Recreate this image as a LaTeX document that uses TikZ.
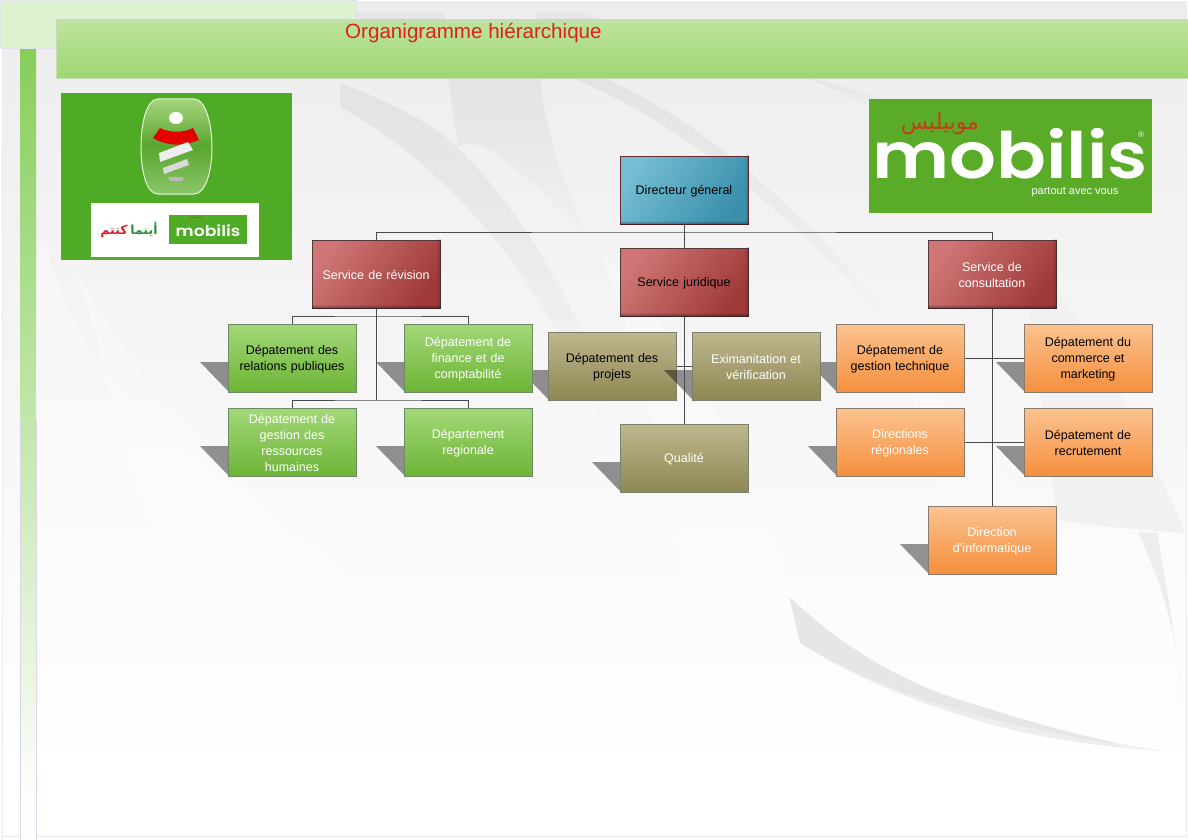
\documentclass[tikz,border=0pt]{standalone}
\usepackage{fontspec}
\setmainfont{Liberation Sans}
\newfontfamily\arabicfont[Script=Arabic]{DejaVu Sans}
\newfontfamily\logofont{Poppins SemiBold}
\TeXXeTstate=1
\usetikzlibrary{fadings}
\definecolor{linec}{HTML}{4A4A4A}
\definecolor{logogreen}{HTML}{4FAB26}
\definecolor{logogreenb}{HTML}{5AAB28}
\definecolor{titlered}{HTML}{E0201A}
\definecolor{swoosh}{HTML}{E6E6E6}
\definecolor{swooshfade}{HTML}{E4E4E4}
\definecolor{swooshpale}{HTML}{F1F1F1}
\definecolor{EDGEred}{HTML}{6E2A34}
\definecolor{EDGEdark}{HTML}{55393A}
\definecolor{EDGEgreen}{HTML}{6E8A62}
\definecolor{EDGEolive}{HTML}{7E7E6C}
\definecolor{EDGEorange}{HTML}{8A7A6A}
\definecolor{BlueA}{HTML}{74BDD3}
\definecolor{BlueB}{HTML}{3A8FAB}
\definecolor{RedA}{HTML}{CF7575}
\definecolor{RedB}{HTML}{A03A3A}
\definecolor{GreenA}{HTML}{A3D878}
\definecolor{GreenB}{HTML}{6CB436}
\definecolor{OliveA}{HTML}{BDB78F}
\definecolor{OliveB}{HTML}{8E8852}
\definecolor{OrangeA}{HTML}{FBC390}
\definecolor{OrangeB}{HTML}{F58F3E}
\definecolor{paleblock}{HTML}{DDF2CF}
\definecolor{paleedge}{HTML}{DFE4EA}
\definecolor{stripA}{HTML}{88CE5C}
\definecolor{stripedge}{HTML}{D8D8EA}
\definecolor{headA}{HTML}{BEE39E}
\definecolor{headB}{HTML}{9ED670}
\definecolor{headedge}{HTML}{C6DEB6}
\definecolor{emblemA}{HTML}{A6D47C}
\definecolor{emblemM}{HTML}{58A630}
\definecolor{emblemB}{HTML}{8CC66A}
\definecolor{emblemedge}{HTML}{E6F4DE}
\definecolor{logored}{HTML}{C93A1A}
\definecolor{slogangreen}{HTML}{2F8F3A}
\definecolor{sloganred}{HTML}{D8232A}
\tikzset{
  orgnode/.style={draw, line width=1pt, minimum width=128pt, minimum height=68pt, inner sep=0pt},
  orgtext/.style={inner sep=0pt, text width=122pt, align=center, font=\fontsize{12.5}{16}\selectfont},
  bluebox/.style={orgnode, draw=EDGEred, left color=BlueA, right color=BlueB, shading angle=55},
  redbox/.style={orgnode, draw=EDGEdark, left color=RedA, right color=RedB, shading angle=55},
  greenbox/.style={orgnode, draw=EDGEgreen, top color=GreenA, bottom color=GreenB},
  olivebox/.style={orgnode, draw=EDGEolive, top color=OliveA, bottom color=OliveB},
  orangebox/.style={orgnode, draw=EDGEorange, top color=OrangeA, bottom color=OrangeB},
  dropshadow/.style={fill=black, opacity=.42},
  wire/.style={draw=linec, line width=1pt},
  lightsweep/.style={fill=white, opacity=.3},
  darksweep/.style={fill=swooshfade, path fading=south},
}
% box without shadow: name, cx, cy, style, text colour, text
\newcommand\plainbox[6]{\node[#4] (#1) at (#2,#3) {};
  \node[orgtext, text=#5] (#1label) at (#2,#3+1) {#6};}
% box with the slanted drop shadow
\newcommand\castbox[6]{%
  \fill[dropshadow] (#2-92,#3+4) -- (#2-64,#3+4) -- (#2-64,#3+33) -- cycle;
  \node[#4] (#1) at (#2,#3) {};
  \node[orgtext, text=#5] (#1label) at (#2,#3+1) {#6};}
% dark bevel along bottom and right of a box
\newcommand\bevel[1]{%
  \fill[black, opacity=.4, path fading=north] (#1.south west) rectangle ([yshift=4pt]#1.south east);
  \fill[black, opacity=.2, path fading=west] ([xshift=-4pt]#1.south east) rectangle (#1.north east);}
\begin{document}
\begin{tikzpicture}[x=1pt,y=-1pt]
\useasboundingbox (0,0) rectangle (1188,840);
% background
\fill[white] (0,0) rectangle (1188,840);
\shade[top color=white!93!black, bottom color=white] (2,2) rectangle (1186,770);
% dark sweeps
\fill[darksweep] (340,83) .. controls (400,105) and (440,130) .. (458,148) .. controls (520,210) and (570,290) .. (620,420) -- (600,420) .. controls (550,300) and (470,180) .. (340,107) -- cycle;
\fill[darksweep] (448,78) -- (540,78) .. controls (545,120) and (555,170) .. (590,240) .. controls (520,170) and (480,130) .. (458,148) -- cycle;
\fill[darksweep] (572,78) -- (605,78) .. controls (720,130) and (820,230) .. (900,330) .. controls (800,230) and (700,130) .. (572,78) -- cycle;
\fill[darksweep] (808,78) .. controls (840,85) and (860,92) .. (886,100) -- (869,108) .. controls (850,95) and (830,88) .. (808,78) -- cycle;
\fill[swoosh] (356,12) rectangle (445,20);
\fill[swoosh] (537,12) -- (580,12) -- (600,20) -- (537,20) -- cycle;
\fill[swooshpale] (1020,240) .. controls (1100,340) and (1150,450) .. (1184,530) -- (1184,533) .. controls (1140,530) and (1090,525) .. (1058,520) .. controls (1040,400) and (1030,320) .. (1020,240) -- cycle;
% the bottom-right crescent
\fill[swoosh] (789,597) .. controls (830,635) and (890,680) .. (970,703) .. controls (1040,725) and (1110,745) .. (1173,752) .. controls (1110,748) and (1030,738) .. (970,718) .. controls (910,700) and (850,675) .. (800,643) -- cycle;
\fill[swoosh] (1138,532) .. controls (1165,590) and (1178,640) .. (1184,710) .. controls (1178,650) and (1165,580) .. (1157,533) -- cycle;
% light sweeps
\fill[lightsweep] (43,230) .. controls (60,320) and (120,420) .. (240,493) .. controls (330,560) and (400,700) .. (497,783) -- (36,783) -- (36,260) -- cycle;
\fill[lightsweep] (73,260) .. controls (120,370) and (250,490) .. (306,543) .. controls (380,610) and (480,680) .. (600,713) -- (720,790) -- (300,790) -- (150,520) -- cycle;
\fill[lightsweep] (600,250) .. controls (720,380) and (780,540) .. (800,643) .. controls (900,705) and (1040,735) .. (1173,752) -- (1184,770) -- (700,770) .. controls (700,600) and (660,420) .. (600,250) -- cycle;
\fill[lightsweep] (880,300) .. controls (940,400) and (1000,480) .. (1058,523) -- (1184,533) -- (1184,770) -- (1000,700) .. controls (960,560) and (920,420) .. (880,300) -- cycle;
% frame
\draw[draw=white!92!black, line width=.8pt] (2,840) -- (2,2) -- (1186,2) -- (1186,836) -- (2,836);
% page furniture
\fill[paleblock, draw=paleedge] (0,0) rectangle (356,48);
\shade[top color=stripA, bottom color=white] (20,50) rectangle (36,810);
\fill[white] (20,810) rectangle (36,840);
\draw[stripedge, line width=.8pt] (20,420) -- (20,840) (36,420) -- (36,840);
\shade[top color=headA, bottom color=headB] (56,20) rectangle (1188,78);
\draw[headedge, line width=.8pt] (1188,20) -- (56,20) -- (56,78) -- (1188,78);
\node[anchor=west, inner sep=0pt, text=titlered, font=\fontsize{20.6}{24}\selectfont] (title) at (345,33) {Organigramme hiérarchique};
% left logo
\fill[logogreen] (61,93) rectangle (292,260);
\shade[top color=emblemA, bottom color=emblemB, middle color=emblemM, draw=emblemedge, line width=1pt] (158,99) -- (194,99) .. controls (206,99) and (212,125) .. (212,147) .. controls (212,170) and (206,194) .. (194,194) -- (158,194) .. controls (146,194) and (141,170) .. (141,147) .. controls (141,125) and (146,99) .. (158,99) -- cycle;
\fill[white] (176,118) ellipse [x radius=7, y radius=6];
\fill[red!90!black] (160,128) .. controls (170,133) and (183,133) .. (193,128) -- (199,140) .. controls (185,146) and (168,147) .. (153,138) -- cycle;
\fill[white!93!black] (159,153) -- (188,142) -- (193,150) -- (160,162) -- cycle;
\fill[white!85!black] (163,168) -- (187,159) -- (189,165) -- (164,174) -- cycle;
\fill[white!72!black] (168,177) -- (183,177) -- (183,181) -- (170,181) -- cycle;
\fill[white] (91,203) rectangle (259,257);
\fill[logogreen] (169,215) rectangle (247,244);
\node[inner sep=0pt, text=white, anchor=base] (smalllogo) at (208,236) {\scalebox{1.15}[1]{\logofont\fontsize{15}{15}\selectfont mobilis}};
\node[inner sep=0pt, text=logored] (smallar) at (196,217) {\arabicfont\fontsize{4}{4}\selectfont\beginR موبيليس\endR};
\node[inner sep=0pt, text=slogangreen] (slogana) at (144,229) {\arabicfont\bfseries\fontsize{12.5}{13}\selectfont\beginR أينما\endR};
\node[inner sep=0pt, text=sloganred] (sloganb) at (114,231) {\arabicfont\bfseries\fontsize{12.5}{13}\selectfont\beginR كنتم\endR};
% right logo
\fill[logogreenb] (869,99) rectangle (1152,213);
\node[inner sep=0pt, text=logored] (bigar) at (940,124) {\arabicfont\fontsize{22}{22}\selectfont\beginR موبيليس\endR};
\node[inner sep=0pt, text=white, anchor=base] (biglogo) at (1010,178) {\scalebox{1.15}[1]{\logofont\fontsize{64}{64}\selectfont mobilis}};
\node[inner sep=0pt, text=white, font=\fontsize{8}{8}\selectfont] (reg) at (1141,135) {®};
\node[inner sep=0pt, text=white, font=\fontsize{11}{13}\selectfont] (slogan) at (1075,192) {partout avec vous};
% boxes
\castbox{gt}{900}{358}{orangebox}{black}{Dépatement de\\gestion technique}
\castbox{cm}{1088}{358}{orangebox}{black}{Dépatement du\\commerce et\\marketing}
\castbox{dr}{900}{442}{orangebox}{white}{Directions\\régionales}
\castbox{rc}{1088}{442}{orangebox}{black}{Dépatement de\\recrutement}
\castbox{di}{992}{540}{orangebox}{white}{Direction\\d'informatique}
\castbox{pr}{612}{366}{olivebox}{black}{Dépatement des\\projets}
\castbox{ex}{756}{366}{olivebox}{white}{Eximanitation et\\vérification}
\castbox{ql}{684}{458}{olivebox}{white}{Qualité}
\castbox{rp}{292}{358}{greenbox}{black}{Dépatement des\\relations publiques}
\castbox{fi}{468}{358}{greenbox}{white}{Dépatement de\\finance et de\\comptabilité}
\castbox{rh}{292}{442}{greenbox}{white}{Dépatement de\\gestion des\\ressources\\humaines}
\castbox{rg}{468}{442}{greenbox}{white}{Département\\regionale}
\plainbox{dg}{684}{190}{bluebox}{black}{Directeur géneral}
\plainbox{sr}{376}{274}{redbox}{white}{Service de révision}
\plainbox{sj}{684}{282}{redbox}{black}{Service juridique}
\plainbox{sc}{992}{274}{redbox}{white}{Service de\\consultation}
\bevel{dg}\bevel{sr}\bevel{sj}\bevel{sc}
% connectors
\coordinate (bus) at (684,232);
\draw[wire] (dg.south) -- (sj.north);
\draw[wire] (sr.north) |- (bus) -| (sc.north);
\coordinate (srtop) at (376,316);
\coordinate (srlow) at (376,400);
\coordinate (sjmid) at (684,366);
\coordinate (sca) at (992,358);
\coordinate (scb) at (992,442);
\draw[wire] (sr.south) -- (srlow);
\draw[wire] (rp.north) |- (srtop) -| (fi.north);
\draw[wire] (rh.north) |- (srlow) -| (rg.north);
\draw[wire] (sj.south) -- (ql.north);
\draw[wire] (pr.east |- sjmid) -- (ex.west |- sjmid);
\draw[wire] (sc.south) -- (di.north);
\draw[wire] (gt.east |- sca) -- (cm.west |- sca);
\draw[wire] (dr.east |- scb) -- (rc.west |- scb);
\end{tikzpicture}
\end{document}
